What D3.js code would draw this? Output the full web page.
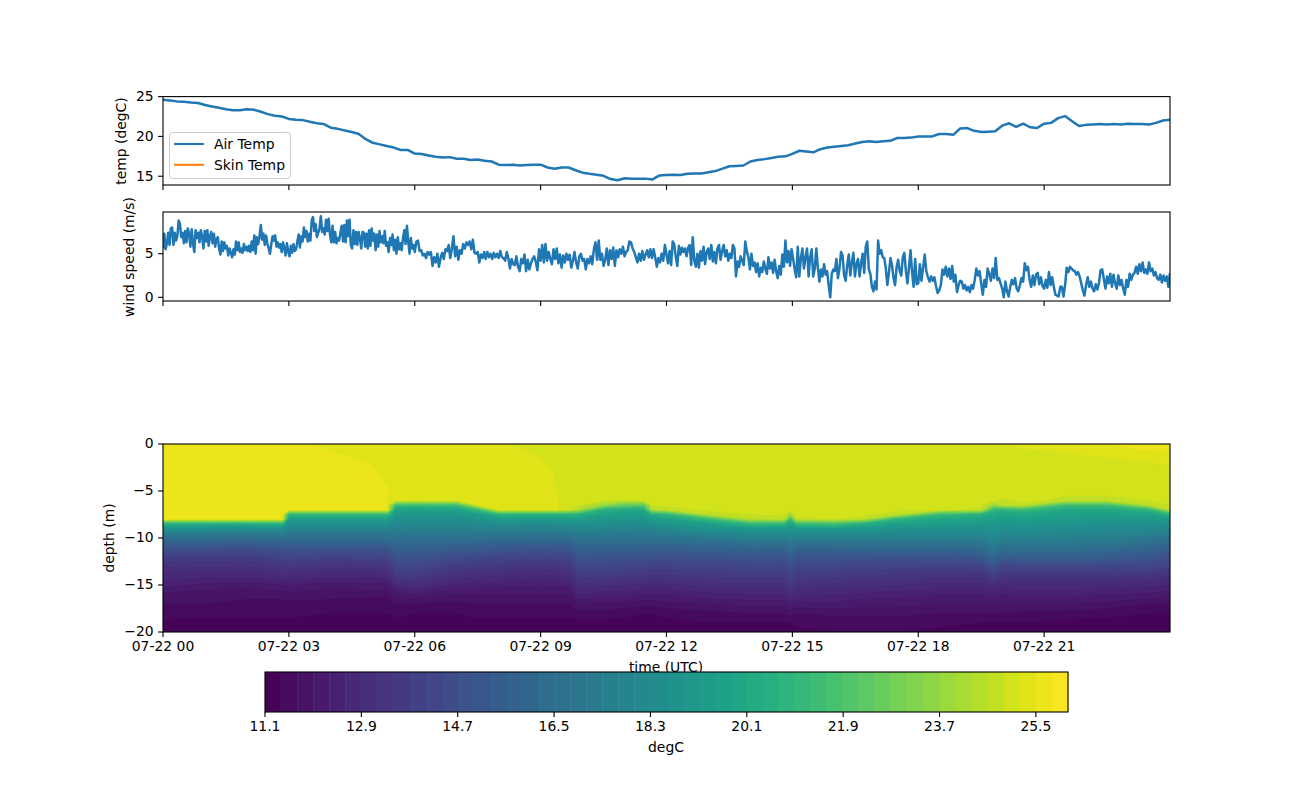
<!DOCTYPE html>
<html lang="en">
<head>
  <meta charset="UTF-8">
  <title>Air temp, wind and water temperature</title>
  <script src="https://d3js.org/d3.v7.min.js"></script>
  <style>
    body { margin: 0; background: white; }
    text { font-family: "DejaVu Sans", sans-serif; font-size: 13.9px; fill: black; }
    .domain, .tick line { stroke: black; stroke-width: 1.1px; }
    .tick text { font-family: "DejaVu Sans", sans-serif; font-size: 13.9px; fill: black; }
    .frame { fill: none; stroke: black; stroke-width: 1.1px; }
    .series { fill: none; stroke: #1f77b4; stroke-width: 2.5px; stroke-linejoin: round; }
  </style>
</head>
<body>
<svg id="svg" width="1300" height="800"></svg>
<script>
// air temp, one value every 10 minutes, one row per hour
const airTemp = [
  24.6,24.5,24.4,24.35,24.25,24.2,
  23.95,23.75,23.6,23.4,23.3,23.3,
  23.4,23.35,23.1,22.8,22.6,22.5,
  22.2,22.1,22.05,21.85,21.65,21.55,
  21.1,20.95,20.75,20.55,20.3,19.65,
  19.2,19.0,18.8,18.6,18.3,18.3,
  17.85,17.8,17.6,17.45,17.35,17.4,
  17.2,17.2,17.05,17.1,16.95,16.85,
  16.45,16.4,16.45,16.35,16.4,16.45,
  16.45,16.1,15.95,16.1,16.1,15.75,
  15.45,15.3,15.2,15.05,14.65,14.5,
  14.75,14.7,14.7,14.7,14.6,15.1,
  15.15,15.2,15.15,15.3,15.35,15.35,
  15.5,15.65,15.95,16.25,16.3,16.35,
  16.85,17.05,17.15,17.3,17.45,17.5,
  17.8,18.2,18.1,18.0,18.4,18.6,
  18.7,18.8,18.9,19.1,19.3,19.4,
  19.3,19.4,19.45,19.8,19.8,19.85,
  20.0,20.0,20.0,20.3,20.3,20.2,
  21.0,21.05,20.7,20.55,20.6,20.65,
  21.35,21.65,21.2,21.6,21.15,21.05,
  21.6,21.7,22.3,22.55,21.9,21.3,
  21.45,21.5,21.55,21.5,21.55,21.5,
  21.6,21.55,21.55,21.5,21.7,22.0,
  22.1
];

// wind speed, one list for each 6 hours
const wind00 = [
  5.6,7.3,5.5,6.2,7.4,6.0,7.9,8.0,6.0,7.4,6.5,7.0,8.8,8.4,6.9,7.4,6.2,7.6,6.3,7.9,7.3,5.8,7.8,6.2,5.2,7.7,6.8,7.4,6.3,7.7,7.0,5.6,7.6,6.4,7.7,5.9,7.0,7.5,6.2,7.3,
  5.8,6.7,6.9,5.6,4.9,6.4,5.3,6.3,5.6,5.9,4.8,5.6,5.1,4.6,5.5,4.9,6.4,5.4,6.3,5.2,5.6,5.1,6.1,5.4,5.8,5.3,5.9,5.2,6.4,5.4,7.1,5.0,6.9,6.1,7.0,8.3,6.6,7.3,6.0,7.1,
  6.2,5.6,5.0,6.1,7.0,6.5,7.1,5.8,6.3,5.7,6.1,5.2,6.3,5.6,4.8,6.2,5.3,4.7,5.9,5.1,6.1,5.3,5.5,6.4,7.2,5.7,7.0,6.4,8.0,6.9,7.6,6.4,7.3,6.5,8.8,9.2,7.6,8.4,6.9,7.4,
  7.9,9.3,7.5,7.9,7.2,8.9,7.6,9.0,7.2,6.3,8.2,6.3,7.5,6.2,6.8,6.5,7.4,8.2,6.4,8.3,6.3,8.8,7.0,8.9,6.0,5.6,7.7,6.1,7.5,6.0,7.5,6.8,5.6,7.5,7.4,5.8,7.3,5.6,
  7.7,5.9,7.9,6.5,7.3,5.4,7.2,5.8,7.6,6.3,7.0,6.2,7.6,5.9,6.3,5.2,6.8,6.0,7.2,5.4,6.6,5.0,6.9,5.5,6.2,5.4,6.8,7.7,6.1,8.2,6.4,5.0,6.8,5.6,6.0
];
const wind06 = [
  5.2,6.4,6.5,5.3,5.4,4.8,5.0,4.5,5.2,4.9,5.2,3.6,4.6,4.0,5.0,3.5,4.5,5.1,4.4,5.5,5.3,6.0,4.5,5.6,7.0,4.7,5.8,4.3,5.4,5.0,6.1,5.6,6.3,6.0,6.4,5.5,6.6,5.1,5.0,5.2,
  4.0,4.9,4.5,5.2,4.4,5.2,4.6,5.0,4.4,5.1,4.6,5.0,4.5,5.3,4.6,4.5,4.2,5.2,4.5,3.3,4.4,3.8,3.7,4.7,3.5,3.0,4.4,3.9,4.9,3.0,4.3,3.2,3.9,4.4,4.7,4.1,3.1,5.5,4.2,6.0,
  4.0,6.1,4.2,5.2,4.4,3.8,5.5,4.4,5.6,3.9,4.9,3.4,4.8,4.0,5.0,4.3,4.9,3.4,4.2,5.2,4.0,3.3,4.7,5.0,4.2,4.4,3.2,4.4,3.9,4.7,3.8,5.5,6.3,4.3,6.5,4.3,5.0,3.6,4.3,5.6,
  3.7,5.4,4.4,5.7,3.6,5.4,4.6,5.5,5.0,5.8,4.7,5.2,5.4,6.4,6.3,5.6,5.2,4.6,4.0,5.0,4.2,5.3,4.3,4.9,5.4,4.6,5.5,4.5,5.5,4.6,3.5,4.5,4.0,5.0,4.2,6.0
];
const wind12 = [
  4.9,3.9,5.3,3.7,6.4,6.1,4.6,3.6,5.9,4.9,5.7,5.2,5.6,4.7,5.7,6.0,3.7,6.9,4.2,3.5,5.0,3.4,5.3,4.2,5.8,3.8,5.2,5.6,4.4,6.0,4.1,5.2,3.9,5.6,6.0,4.3,5.3,6.0,4.7,5.4,
  4.2,5.0,4.5,6.0,5.6,2.4,4.1,3.5,4.7,4.2,3.7,6.4,5.3,4.6,3.2,5.0,3.6,4.0,2.9,3.9,2.4,3.4,2.9,4.1,3.3,2.7,4.6,3.3,4.0,2.8,4.3,3.0,2.2,3.6,2.6,4.9,3.5,6.5,4.0,5.3,
  3.6,5.5,4.4,3.2,2.3,5.8,2.4,4.5,5.6,3.3,4.6,5.6,2.4,4.6,5.5,2.4,3.3,5.6,3.4,1.8,3.2,2.4,3.8,2.6,3.0,1.4,0.0,2.7,3.2,3.0,4.4,2.2,3.3,5.2,4.8,2.5,1.9,3.7,4.9,2.5,
  4.0,5.1,2.4,3.8,4.4,2.4,3.9,5.0,2.8,5.8,6.4,3.2,2.7,1.2,0.7,1.8,0.9,6.5,5.0,5.4,4.6,4.5,3.3,1.4,2.8,4.5,3.7,2.2,1.4,3.5,4.3,3.0,2.5,4.6,5.1,3.0,1.6,3.4,5.4,2.9,1.2,4.4,1.5
];
const wind18 = [
  1.6,3.8,1.9,3.4,4.9,3.0,2.3,1.8,2.4,1.9,2.3,1.3,0.5,0.8,1.4,3.2,2.6,3.5,2.4,3.3,2.1,3.6,1.8,2.6,0.6,1.4,1.9,1.8,1.0,1.4,0.8,1.2,0.6,1.4,1.0,2.0,3.3,2.5,3.0,1.6,
  0.3,2.0,1.2,3.3,2.7,1.9,3.3,2.2,4.5,2.0,2.2,1.6,1.0,0.0,1.8,0.7,0.1,1.2,2.0,1.5,2.2,1.0,0.7,1.4,2.2,1.8,3.9,3.1,3.5,2.0,1.2,2.5,1.4,2.6,2.8,1.5,2.3,1.3,1.0,2.0,
  1.1,2.9,1.4,2.3,1.2,0.3,0.2,0.1,1.2,1.2,0.1,1.4,3.4,2.9,3.5,3.3,3.1,3.0,2.6,2.9,2.4,1.6,0.8,0.2,1.4,2.3,1.2,1.8,1.0,0.7,1.5,0.9,1.7,3.1,3.2,2.1,1.0,2.4,1.6,2.7,
  1.2,2.6,1.6,1.0,2.5,1.4,2.0,1.0,0.3,2.0,1.2,2.7,2.0,2.6,2.8,3.5,2.7,3.8,3.0,4.0,2.8,3.2,2.7,4.0,3.0,3.3,2.5,2.9,2.2,2.0,2.6,1.7,2.5,1.9,2.4,1.2,2.8
];

// water temperature, one list of values per time, top to bottom
const heatDepths = [0,1.5,3,4.5,5.5,6,6.5,7,7.5,8,8.5,9,9.5,10,11,12,13,14,15,16,17,18,19,20];
const heatHours = [0,1,2,2.85,3,4,5,5.35,5.55,6,7,7.5,8,9,9.7,9.9,10.5,11,11.45,11.65,12,13,14,14.8,14.95,15.1,16,16.7,17.5,18.5,19.5,19.8,20,20.5,21.5,22.5,23.5,24];
const heatTemps = [
  [25.6,25.6,25.6,25.6,25.6,25.6,25.6,25.6,25.6,25.5,20.6,18.8,17.5,16.6,15.0,13.9,13.2,12.8,12.4,11.9,11.7,11.6,11.3,11.2],
  [25.6,25.6,25.6,25.6,25.6,25.6,25.6,25.6,25.6,25.5,20.4,18.7,17.4,16.5,14.9,13.8,13.2,12.7,12.2,11.8,11.7,11.5,11.3,11.2],
  [25.6,25.6,25.6,25.6,25.6,25.6,25.6,25.6,25.6,25.5,20.4,18.6,17.3,16.4,14.8,13.7,13.2,12.7,12.1,11.8,11.6,11.5,11.3,11.2],
  [25.6,25.6,25.6,25.6,25.6,25.6,25.6,25.6,25.6,25.5,20.6,18.8,17.5,16.6,15.1,14.1,13.5,12.9,12.3,11.8,11.6,11.5,11.3,11.2],
  [25.6,25.6,25.6,25.6,25.6,25.6,25.6,25.6,21.0,19.5,18.6,17.8,17.1,16.5,15.2,14.2,13.5,12.9,12.3,11.9,11.6,11.5,11.3,11.2],
  [25.4,25.6,25.6,25.6,25.6,25.6,25.6,25.6,21.0,19.5,18.6,17.8,17.1,16.5,15.1,14.0,13.3,12.7,12.1,11.8,11.6,11.4,11.3,11.2],
  [25.3,25.4,25.6,25.6,25.6,25.6,25.6,25.6,21.0,19.5,18.6,17.8,17.1,16.5,15.1,14.1,13.3,12.7,12.2,11.8,11.5,11.4,11.3,11.2],
  [25.3,25.3,25.3,25.5,25.5,25.5,25.5,25.5,21.2,19.6,18.7,17.8,17.1,16.6,15.2,14.2,13.4,12.8,12.2,11.8,11.5,11.4,11.3,11.2],
  [25.3,25.3,25.3,25.3,25.3,25.3,21.5,19.6,19.0,18.6,18.2,17.7,17.2,16.7,15.8,14.9,14.2,13.6,12.8,12.1,11.7,11.5,11.3,11.2],
  [25.3,25.3,25.3,25.3,25.3,25.3,21.5,19.6,19.0,18.6,18.2,17.7,17.2,16.7,15.8,14.9,14.3,13.7,13.0,12.2,11.7,11.4,11.3,11.2],
  [25.3,25.3,25.3,25.3,25.3,25.3,21.6,19.7,19.0,18.5,18.1,17.6,17.1,16.6,15.5,14.5,13.7,13.1,12.5,12.0,11.6,11.4,11.3,11.2],
  [25.3,25.3,25.3,25.3,25.3,25.3,25.3,21.4,19.4,18.8,18.2,17.7,17.1,16.6,15.4,14.4,13.6,13.0,12.4,12.0,11.7,11.5,11.3,11.2],
  [25.3,25.3,25.3,25.3,25.3,25.3,25.3,25.3,20.8,19.3,18.5,17.7,17.1,16.5,15.3,14.2,13.5,12.9,12.4,12.0,11.7,11.5,11.3,11.2],
  [25.0,25.2,25.4,25.4,25.5,25.5,25.5,25.5,20.6,19.3,18.4,17.7,17.0,16.4,15.1,14.1,13.4,12.8,12.3,12.0,11.7,11.5,11.3,11.2],
  [25.0,25.0,25.0,25.0,25.0,25.0,25.0,25.0,20.6,19.4,18.5,17.8,17.2,16.5,15.2,14.2,13.5,13.0,12.4,12.0,11.7,11.5,11.3,11.2],
  [25.0,25.0,25.0,25.0,25.0,25.0,25.0,24.3,20.6,19.5,18.7,18.0,17.4,16.8,15.8,15.0,14.3,13.7,13.1,12.6,12.0,11.6,11.3,11.2],
  [25.0,25.0,25.0,25.0,25.0,25.0,23.9,20.6,19.6,19.1,18.5,18.0,17.4,16.9,15.8,14.9,14.2,13.6,13.0,12.4,11.9,11.6,11.3,11.2],
  [25.0,25.0,25.0,25.0,25.0,25.0,22.6,20.2,19.4,19.0,18.4,17.9,17.3,16.8,15.8,14.9,14.2,13.6,12.9,12.4,11.9,11.5,11.3,11.2],
  [25.0,25.0,25.0,25.0,25.0,25.0,22.4,20.1,19.4,18.9,18.4,17.9,17.4,16.9,15.8,14.9,14.1,13.4,12.8,12.3,11.8,11.4,11.3,11.2],
  [25.0,25.0,25.0,25.0,25.0,25.0,25.0,24.3,20.4,19.4,18.7,18.0,17.4,16.9,15.7,14.7,14.0,13.4,12.8,12.3,11.8,11.4,11.3,11.2],
  [25.0,25.0,25.0,25.0,25.0,25.0,25.0,24.7,21.0,19.6,18.9,18.2,17.6,17.0,15.7,14.7,14.0,13.4,12.8,12.3,11.9,11.5,11.3,11.2],
  [25.0,25.0,25.0,25.0,25.0,25.0,25.0,25.0,24.6,21.2,19.6,18.8,18.0,17.2,15.9,14.8,14.1,13.6,13.0,12.5,12.0,11.6,11.4,11.3],
  [25.0,25.0,25.0,25.0,25.0,25.0,25.0,25.0,24.9,24.5,21.0,19.2,18.3,17.5,16.1,15.0,14.2,13.6,13.1,12.6,12.1,11.7,11.4,11.3],
  [25.0,25.0,25.0,25.0,25.0,25.0,25.0,25.0,25.0,24.6,21.0,19.2,18.3,17.5,16.1,14.9,14.2,13.6,13.1,12.6,12.1,11.7,11.4,11.3],
  [25.0,25.0,25.0,25.0,25.0,25.0,25.0,25.0,24.0,21.4,19.8,19.0,18.4,17.8,16.6,15.6,14.8,14.2,13.6,13.0,12.3,11.8,11.4,11.3],
  [25.0,25.0,25.0,25.0,25.0,25.0,25.0,25.0,25.0,24.8,21.2,19.3,18.3,17.5,16.0,14.9,14.2,13.7,13.2,12.7,12.2,11.7,11.5,11.3],
  [25.0,25.0,25.0,25.0,25.0,25.0,25.0,25.0,25.0,24.9,21.6,19.4,18.4,17.5,16.1,15.0,14.2,13.6,13.1,12.6,12.2,11.8,11.5,11.4],
  [25.0,25.0,25.0,25.0,25.0,25.0,25.0,25.0,25.0,24.5,20.4,19.2,18.3,17.6,16.2,15.0,14.1,13.5,13.0,12.5,12.1,11.8,11.5,11.4],
  [25.0,25.0,25.0,25.0,25.0,25.0,25.0,25.0,24.7,20.8,19.6,18.9,18.2,17.6,16.2,14.9,14.0,13.4,12.9,12.4,12.1,11.8,11.5,11.4],
  [25.0,25.0,25.0,25.0,25.0,25.0,25.0,25.0,21.4,20.0,19.4,18.7,18.1,17.5,16.2,15.0,14.0,13.3,12.8,12.3,12.0,11.7,11.5,11.3],
  [25.1,25.0,25.0,25.0,25.0,25.0,25.0,24.8,20.6,19.8,19.2,18.7,18.2,17.6,16.4,15.2,14.1,13.3,12.8,12.3,12.0,11.7,11.4,11.3],
  [25.2,25.0,25.0,25.0,25.0,25.0,23.8,21.0,20.0,19.6,19.2,18.8,18.5,18.0,17.2,16.2,15.0,13.9,13.0,12.4,12.0,11.7,11.4,11.3],
  [25.2,25.0,25.0,25.0,25.0,24.8,24.6,20.8,19.8,19.3,18.9,18.5,18.1,17.7,16.6,15.4,14.2,13.4,12.8,12.3,12.0,11.7,11.4,11.3],
  [25.3,25.0,25.0,25.0,25.0,25.0,24.8,21.4,20.0,19.5,19.0,18.6,18.2,17.8,16.8,15.6,14.3,13.4,12.8,12.4,12.0,11.6,11.4,11.2],
  [25.4,25.1,25.0,25.0,24.9,24.8,21.6,20.1,19.6,19.2,18.8,18.4,18.0,17.6,16.7,15.6,14.4,13.4,12.8,12.4,12.0,11.6,11.3,11.2],
  [25.5,25.2,25.0,25.0,24.9,24.8,21.6,20.1,19.5,19.1,18.7,18.3,17.9,17.5,16.5,15.4,14.3,13.4,12.8,12.3,11.9,11.5,11.3,11.2],
  [25.7,25.3,25.0,25.0,25.0,24.9,24.6,21.0,19.7,19.2,18.7,18.2,17.7,17.1,16.0,15.1,14.2,13.4,12.7,12.2,11.7,11.4,11.2,11.2],
  [25.7,25.3,25.1,25.0,25.0,25.0,24.9,24.7,20.8,19.3,18.6,18.0,17.4,16.8,15.6,14.7,13.9,13.2,12.6,12.1,11.7,11.4,11.2,11.2]
];

const tickHours = [0,3,6,9,12,15,18,21];
const tempTicks = [25,20,15];
const windTicks = [5,0];
const depthTicks = [0,-5,-10,-15,-20];
const barTicks = [11.1,12.9,14.7,16.5,18.3,20.1,21.9,23.7,25.5];
const legendNames = ["Air Temp","Skin Temp"];
const legendColours = ["#1f77b4","#ff7f0e"];

// contour levels, 0.3 degC apart
const levels = d3.range(50).map(i => 11.1 + 0.3*i);
const colour = i => d3.interpolateViridis((i+0.5)/50);

const svg = d3.select("#svg");
const left = 163, right = 1170;

const start = Date.UTC(2021,6,22);
const toDate = h => new Date(start + h*3600000);
const x = d3.scaleUtc().domain([toDate(0), toDate(24)]).range([left, right]);
const fmt = d3.utcFormat("%m-%d %H");

const yTemp = d3.scaleLinear().domain([13.9,25]).range([185,96.6]);
const yWind = d3.scaleLinear().domain([-0.42,9.78]).range([301,212]);
const yDepth = d3.scaleLinear().domain([-20,0]).range([632,444]);
const barX = d3.scaleLinear().domain([11.1,26.1]).range([265,1068]);

function drawFrame(top, bottom, y, ticks, labels) {
  const g = svg.append("g");
  const xAxis = d3.axisBottom(x).tickValues(tickHours.map(toDate)).tickSize(4.9).tickPadding(4.5).offset(0)
    .tickFormat(labels ? fmt : "");
  g.append("g").attr("transform", `translate(0,${bottom})`).call(xAxis)
    .call(a => a.select(".domain").remove());
  g.append("g").attr("transform", `translate(${left},0)`)
    .call(d3.axisLeft(y).tickValues(ticks).tickSize(4.9).tickPadding(4.5).offset(0))
    .call(a => a.select(".domain").remove());
  g.append("rect").attr("class", "frame")
    .attr("x", left).attr("y", top).attr("width", right-left).attr("height", bottom-top);
}

function yLabel(text, px, py) {
  svg.append("text").attr("transform", `translate(${px},${py}) rotate(-90)`)
    .attr("text-anchor", "middle").text(text);
}

svg.append("clipPath").attr("id", "clipTemp").append("rect")
  .attr("x", left).attr("y", 96.6).attr("width", right-left).attr("height", 88.4);
svg.append("clipPath").attr("id", "clipWind").append("rect")
  .attr("x", left).attr("y", 212).attr("width", right-left).attr("height", 89);
svg.append("clipPath").attr("id", "clipHeat").append("rect")
  .attr("x", left).attr("y", 444).attr("width", right-left).attr("height", 188);

// temperature panel
const tempLine = d3.line().x((d,i) => x(toDate(i/6))).y(d => yTemp(d));
svg.append("path").attr("class", "series").attr("clip-path", "url(#clipTemp)")
  .attr("d", tempLine(airTemp));
drawFrame(96.6, 185, yTemp, tempTicks, false);
yLabel("temp (degC)", 126, 141);

const legend = svg.append("g");
legend.append("rect").attr("x", 169.5).attr("y", 132.5).attr("width", 121).attr("height", 46)
  .attr("rx", 3).attr("fill", "white").attr("fill-opacity", 0.8).attr("stroke", "#ccc");
legendNames.forEach((name, i) => {
  const ly = 144 + i*20.8;
  legend.append("line").attr("x1", 174).attr("x2", 204).attr("y1", ly).attr("y2", ly)
    .attr("stroke", legendColours[i]).attr("stroke-width", 2.08);
  legend.append("text").attr("x", 214).attr("y", ly+5).text(name);
});

// wind panel
const windParts = [wind00, wind06, wind12, wind18];
const windPoints = windParts.flatMap((part, k) =>
  part.map((v, i) => ({ h: k*6 + 6*i/(k == 3 ? part.length-1 : part.length), v })));
const windLine = d3.line().x(d => x(toDate(d.h))).y(d => yWind(d.v));
svg.append("path").attr("class", "series").attr("clip-path", "url(#clipWind)")
  .attr("d", windLine(windPoints));
drawFrame(212, 301, yWind, windTicks, false);
yLabel("wind speed (m/s)", 134, 257);

// depth panel, filled contours like the colour bar
const nCols = heatHours.length, nRows = heatDepths.length;
const flat = [];
for (let r = 0; r < nRows; r++) for (let c = 0; c < nCols; c++) flat.push(heatTemps[c][r]);

const colStops = [0, ...d3.range(nCols).map(i => i+0.5), nCols];
const rowStops = [0, ...d3.range(nRows).map(i => i+0.5), nRows];
const colHour = d3.scaleLinear().domain(colStops).range([-1, ...heatHours, 25]);
const rowDepth = d3.scaleLinear().domain(rowStops).range([1, ...heatDepths.map(d => -d), -21]);
const gridPath = d3.geoPath(d3.geoTransform({
  point(px, py) { this.stream.point(x(toDate(colHour(px))), yDepth(rowDepth(py))); }
}));
const contours = d3.contours().size([nCols, nRows]).thresholds(levels)(flat);

svg.append("g").attr("clip-path", "url(#clipHeat)")
  .selectAll("path").data(contours).join("path")
  .attr("d", gridPath)
  .attr("fill", (d,i) => colour(i));
drawFrame(444, 632, yDepth, depthTicks, true);
yLabel("depth (m)", 114, 538);

svg.append("text").attr("x", 666).attr("y", 672).attr("text-anchor", "middle").text("time (UTC)");

// colour bar
svg.append("g").selectAll("rect").data(levels).join("rect")
  .attr("x", d => barX(d)).attr("y", 672)
  .attr("width", d => barX(d+0.3)-barX(d)+0.5).attr("height", 40)
  .attr("fill", (d,i) => colour(i));
svg.append("rect").attr("class", "frame").attr("x", 265).attr("y", 672).attr("width", 803).attr("height", 40);
svg.append("g").attr("transform", "translate(0,712)")
  .call(d3.axisBottom(barX).tickValues(barTicks).tickFormat(d3.format(".1f")).tickSize(4.9).tickPadding(4.5).offset(0))
  .call(a => a.select(".domain").remove());
svg.append("text").attr("x", 666).attr("y", 752).attr("text-anchor", "middle").text("degC");
</script>
</body>
</html>
